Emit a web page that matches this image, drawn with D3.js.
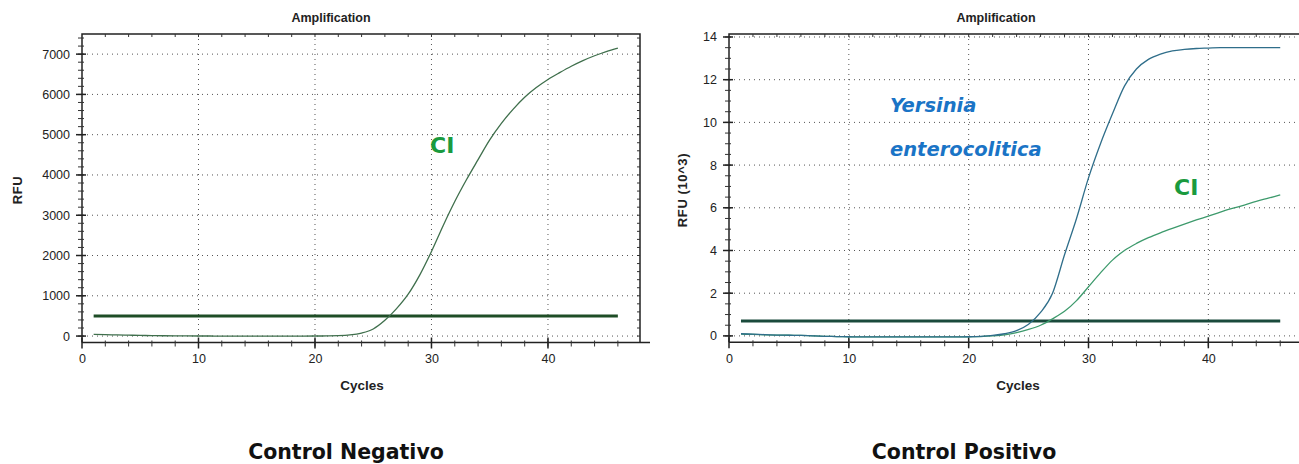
<!DOCTYPE html>
<html>
<head>
<meta charset="utf-8">
<script src="https://cdn.jsdelivr.net/npm/d3@7"></script>
<style>
  body { margin: 0; background: #fff; }
  svg { display: block; }
</style>
</head>
<body>
<svg id="chart" width="1299" height="464"></svg>
<script>
// cycles 1..46
var cycles = d3.range(1, 47)

// Control Negativo, RFU
var negCI = [40, 35, 28, 22, 16, 12, 8, 5, 3, 2,
  1, 0, 0, 0, 0, 0, 0, 0, 0, 1,
  3, 9, 28, 75, 175, 390, 680, 1040, 1520, 2100,
  2740, 3340, 3880, 4380, 4870, 5280, 5630, 5930, 6170, 6370,
  6540, 6700, 6840, 6960, 7065, 7150]
var negThreshold = 500

// Control Positivo, RFU (10^3)
var posYersinia = [0.10, 0.08, 0.06, 0.04, 0.03, 0.02, 0.0, -0.02, -0.03, -0.04,
  -0.05, -0.05, -0.05, -0.05, -0.05, -0.05, -0.05, -0.05, -0.05, -0.04,
  -0.02, 0.02, 0.1, 0.25, 0.55, 1.1, 2.0, 3.8, 5.5, 7.4,
  9.0, 10.4, 11.7, 12.5, 12.95, 13.2, 13.35, 13.42, 13.46, 13.48,
  13.5, 13.5, 13.5, 13.5, 13.5, 13.5]
var posCI = [0.08, 0.07, 0.05, 0.04, 0.03, 0.02, 0.0, -0.02, -0.03, -0.04,
  -0.05, -0.05, -0.05, -0.05, -0.05, -0.05, -0.05, -0.05, -0.05, -0.04,
  -0.03, 0.0, 0.05, 0.15, 0.3, 0.5, 0.8, 1.15, 1.65, 2.3,
  2.95, 3.55, 4.0, 4.33, 4.6, 4.83, 5.04, 5.24, 5.43, 5.61,
  5.8, 5.97, 6.13, 6.3, 6.45, 6.6]
var posThreshold = 0.7

var xTicks = [0, 10, 20, 30, 40]
var negYTicks = [0, 1000, 2000, 3000, 4000, 5000, 6000, 7000]
var posYTicks = [0, 2, 4, 6, 8, 10, 12, 14]

var svg = d3.select('#chart')
var font = 'Liberation Sans, Arial, sans-serif'
var capFont = 'DejaVu Sans, sans-serif'

function panel(opt) {
  var x = d3.scaleLinear().domain([0, 47.9]).range([opt.left, opt.right])
  var y = d3.scaleLinear().domain(opt.yDomain).range([opt.bottom, opt.top])
  var g = svg.append('g')

  // grid
  g.append('g').selectAll('line').data(xTicks.slice(1)).join('line')
    .attr('x1', d => x(d)).attr('x2', d => x(d))
    .attr('y1', opt.top).attr('y2', opt.bottom)
    .attr('stroke', '#555').attr('stroke-width', 1).attr('stroke-dasharray', '1,4')
  g.append('g').selectAll('line').data(opt.yTicks).join('line')
    .attr('x1', opt.left).attr('x2', opt.right)
    .attr('y1', d => y(d)).attr('y2', d => y(d))
    .attr('stroke', '#555').attr('stroke-width', 1).attr('stroke-dasharray', '1,4')

  // frame
  g.append('path')
    .attr('d', 'M' + opt.left + ',' + opt.bottom + 'V' + opt.top + 'H' + opt.right +
      (opt.rightBorder ? 'V' + opt.bottom : ''))
    .attr('fill', 'none').attr('stroke', '#222').attr('stroke-width', 1.5)

  // top frame minor ticks
  var xMinor = d3.range(2, 48, 2)
  g.append('g').selectAll('line').data(xMinor).join('line')
    .attr('x1', d => x(d)).attr('x2', d => x(d))
    .attr('y1', opt.top).attr('y2', opt.top + 3)
    .attr('stroke', '#333')

  // x axis
  var xAxis = d3.axisBottom(x).tickValues(xTicks).tickSize(0).tickPadding(12)
    .tickFormat(d3.format('d'))
  var ax = g.append('g').attr('transform', 'translate(0,' + opt.bottom + ')').call(xAxis)
  ax.select('.domain').remove()
  ax.selectAll('text').attr('font-family', font).attr('font-size', 12.5).attr('fill', '#222')
  g.append('line').attr('x1', opt.left).attr('x2', opt.right + 10)
    .attr('y1', opt.bottom).attr('y2', opt.bottom)
    .attr('stroke', '#222').attr('stroke-width', 1.5)
  g.append('g').selectAll('line').data(xMinor).join('line')
    .attr('x1', d => x(d)).attr('x2', d => x(d))
    .attr('y1', opt.bottom - 2).attr('y2', opt.bottom + 4)
    .attr('stroke', '#333')
  g.append('g').selectAll('line').data(xTicks).join('line')
    .attr('x1', d => x(d)).attr('x2', d => x(d))
    .attr('y1', opt.bottom - 5).attr('y2', opt.bottom + 6)
    .attr('stroke', '#222').attr('stroke-width', 1.5)

  // y axis
  var yAxis = d3.axisLeft(y).tickValues(opt.yTicks).tickSize(0).tickPadding(12)
    .tickFormat(d3.format('d'))
  var ay = g.append('g').attr('transform', 'translate(' + opt.left + ',0)').call(yAxis)
  ay.select('.domain').remove()
  ay.selectAll('text').attr('font-family', font).attr('font-size', 12.5).attr('fill', '#222')
  var yMinor = d3.range(0, opt.yDomain[1], opt.yMinor)
  g.append('g').selectAll('line').data(yMinor).join('line')
    .attr('x1', opt.left - 4).attr('x2', opt.left + 2)
    .attr('y1', d => y(d)).attr('y2', d => y(d))
    .attr('stroke', '#333')
  g.append('g').selectAll('line').data(opt.yTicks).join('line')
    .attr('x1', opt.left - 6).attr('x2', opt.left + 4)
    .attr('y1', d => y(d)).attr('y2', d => y(d))
    .attr('stroke', '#222').attr('stroke-width', 1.5)
  if (opt.rightBorder) {
    g.append('g').selectAll('line').data(yMinor).join('line')
      .attr('x1', opt.right - 3).attr('x2', opt.right)
      .attr('y1', d => y(d)).attr('y2', d => y(d))
      .attr('stroke', '#333')
  }

  // threshold
  g.append('line')
    .attr('x1', x(1)).attr('x2', x(46))
    .attr('y1', y(opt.threshold)).attr('y2', y(opt.threshold))
    .attr('stroke', opt.thresholdColor).attr('stroke-width', 3)

  // curves
  var line = d3.line().x((d, i) => x(cycles[i])).y(d => y(d)).curve(d3.curveMonotoneX)
  opt.series.forEach(function (s) {
    g.append('path').datum(s.values)
      .attr('d', line)
      .attr('fill', 'none').attr('stroke', s.color).attr('stroke-width', 1.3)
  })

  // titles
  g.append('text').attr('x', opt.titleX).attr('y', 22)
    .attr('text-anchor', 'middle').attr('font-family', font).attr('font-weight', 'bold')
    .attr('font-size', 12.5).attr('fill', '#222').text('Amplification')
  g.append('text').attr('x', opt.xLabelX).attr('y', 390)
    .attr('text-anchor', 'middle').attr('font-family', font).attr('font-weight', 'bold')
    .attr('font-size', 13.5).attr('fill', '#222').text('Cycles')
  g.append('text')
    .attr('transform', 'translate(' + opt.yLabelX + ',' + 190 + ') rotate(-90)')
    .attr('text-anchor', 'middle').attr('font-family', font).attr('font-weight', 'bold')
    .attr('font-size', 13).attr('letter-spacing', 0.6).attr('fill', '#222').text(opt.yLabel)
  g.append('text').attr('x', opt.captionX).attr('y', 459)
    .attr('text-anchor', 'middle').attr('font-family', capFont).attr('font-weight', 'bold')
    .attr('font-size', 20.5).attr('fill', '#111').text(opt.caption)

  return { x: x, y: y, g: g }
}

var left = panel({
  left: 82, right: 640, top: 34, bottom: 342.5,
  yDomain: [-160, 7500], yTicks: negYTicks, yMinor: 200,
  threshold: negThreshold, thresholdColor: '#1e4d26',
  series: [{ values: negCI, color: '#3f6f4c' }],
  rightBorder: true, titleX: 331, xLabelX: 362, yLabelX: 22, yLabel: 'RFU',
  captionX: 346, caption: 'Control Negativo'
})

var right = panel({
  left: 729, right: 1303, top: 34, bottom: 342.3,
  yDomain: [-0.3, 14.14], yTicks: posYTicks, yMinor: 0.5,
  threshold: posThreshold, thresholdColor: '#1a4a3c',
  series: [{ values: posCI, color: '#3d9a6c' }, { values: posYersinia, color: '#2f6e8a' }],
  rightBorder: false, titleX: 996, xLabelX: 1018, yLabelX: 687, yLabel: 'RFU (10^3)',
  captionX: 964, caption: 'Control Positivo'
})

// annotations
left.g.append('text').attr('x', 430).attr('y', 153)
  .attr('font-family', capFont).attr('font-weight', 'bold').attr('font-size', 22)
  .attr('fill', '#1a9a3e').text('CI')
right.g.append('text').attr('x', 1174).attr('y', 195)
  .attr('font-family', capFont).attr('font-weight', 'bold').attr('font-size', 22)
  .attr('fill', '#1a9a3e').text('CI')
right.g.append('text').attr('x', 890).attr('y', 112)
  .attr('font-family', capFont).attr('font-weight', 'bold').attr('font-style', 'italic')
  .attr('font-size', 19.5).attr('fill', '#1a74c6').text('Yersinia')
right.g.append('text').attr('x', 890).attr('y', 156)
  .attr('font-family', capFont).attr('font-weight', 'bold').attr('font-style', 'italic')
  .attr('font-size', 19.5).attr('fill', '#1a74c6').text('enterocolitica')
</script>
</body>
</html>
